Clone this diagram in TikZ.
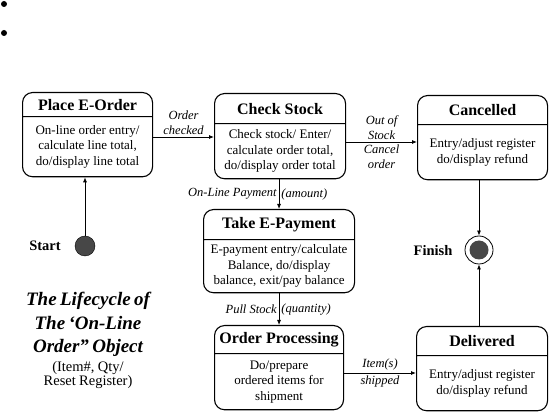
\documentclass[tikz,border=0pt]{standalone}
\usepackage{fontspec}
\setmainfont{Liberation Serif}
\usetikzlibrary{shapes.multipart}
\usetikzlibrary{arrows.meta}
\newcommand{\titlefont}{\fontsize{16}{18}\selectfont\bfseries}
\newcommand{\bodyfont}{\fontsize{13}{15.5}\selectfont}
\newcommand{\eventfont}{\fontsize{12.5}{15}\selectfont\itshape}
\newcommand{\statetext}[5]{\parbox[c][#2pt][c]{#1pt}{\centering\titlefont #4}\nodepart{two}\parbox[c][#3pt][c]{#1pt}{\centering\bodyfont #5}}
\tikzstyle{state}=[draw, rectangle split, rectangle split parts=2, rounded corners=10pt, inner sep=0pt, line width=1.1pt, anchor=north west]
\tikzstyle{transition}=[line width=0.8pt, -{Latex[length=5pt, width=4pt]}]
\tikzstyle{event}=[font=\eventfont, inner sep=2pt, align=center]
\tikzstyle{pseudo label}=[font=\fontsize{14.5}{16}\selectfont\bfseries]
\tikzstyle{start state}=[circle, draw, fill=black!72, minimum size=20pt, inner sep=0pt]
\tikzstyle{end state}=[circle, draw, line width=0.8pt, minimum size=28pt, inner sep=0pt,
  path picture={\fill[black!72] (path picture bounding box.center) circle (9.5pt);}]

\begin{document}
\begin{tikzpicture}[x=1pt, y=-1pt]
      \useasboundingbox (0,0) rectangle (554,419);
      \fill (4,4) circle (3pt);
      \fill (4,33) circle (3pt);

      \node[state] (place) at (22,92)
        {\statetext{130}{23}{59}{Place E-Order}{On-line order entry/\\calculate line total,\\do/display line total}};
      \node[state] (check) at (214,93)
        {\statetext{131}{29}{54}{Check Stock}{Check stock/ Enter/\\calculate order total,\\do/display order total}};
      \node[state] (cancel) at (417,95)
        {\statetext{130}{28}{54}{Cancelled}{Entry/adjust register\\do/display refund}};
      \node[state] (pay) at (203,209)
        {\statetext{151}{29}{52}{Take E-Payment}{E-payment entry/calculate\\Balance, do/display\\balance, exit/pay balance}};
      \node[state] (proc) at (214,325)
        {\statetext{129}{27}{55}{Order Processing}{Do/prepare\\ordered items for\\shipment}};
      \node[state] (deliv) at (416,326)
        {\statetext{131}{28}{54}{Delivered}{Entry/adjust register\\do/display refund}};

      \node[start state] (start) at (85,246) {};
      \node[pseudo label] (start label) at (45,246) {Start};
      \node[end state] (finish) at (479,250) {};
      \node[pseudo label] (finish label) at (433,251) {Finish};

      \draw[transition] (start) -- (start |- place.south);
      \draw[transition] (place.east |- 0,137) -- (check.west |- 0,137)
        node[event, midway, above] {Order\\checked};
      \draw[transition] (check.east |- 0,142) -- (cancel.west |- 0,142)
        node[event, midway, above] {Out of\\Stock}
        node[event, midway, below] {Cancel\\order};
      \draw[transition] (check.south -| pay.north) -- (pay.north)
        node[event, midway, left] {On-Line Payment}
        node[event, midway, right] {(amount)};
      \draw[transition] (pay.south -| proc.north) -- (proc.north)
        node[event, midway, left] {Pull Stock}
        node[event, midway, right] {(quantity)};
      \draw[transition] (proc.east |- 0,373) -- (deliv.west |- 0,373)
        node[event, midway, above] {Item(s)}
        node[event, midway, below] {shipped};
      \draw[transition] (cancel.south -| finish) -- (finish);
      \draw[transition] (deliv.north -| finish) -- (finish);

      \node[anchor=north, text width=160pt, align=center, inner sep=0pt] (caption) at (88,292)
        {{\fontsize{19}{23.5}\selectfont\bfseries\itshape The Lifecycle of\\The ‘On-Line\\Order” Object\par}
         \vspace{1.5pt}\fontsize{14.5}{17.5}\selectfont (Item\#, Qty/\\Reset Register)};
\end{tikzpicture}
\end{document}
